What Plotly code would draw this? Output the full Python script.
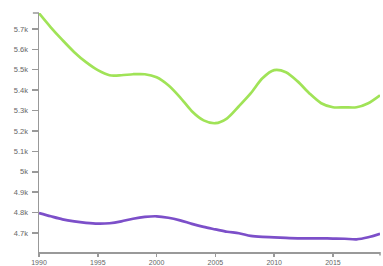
import plotly.graph_objects as go

years = list(range(1990, 2020))
green_values = [5777, 5708, 5645, 5586, 5537, 5498, 5473, 5473, 5478, 5478,
                5463, 5424, 5365, 5297, 5252, 5238, 5262, 5321, 5384, 5458,
                5498, 5488, 5443, 5384, 5336, 5316, 5316, 5316, 5336, 5375]
purple_values = [4798, 4782, 4767, 4757, 4750, 4746, 4748, 4757, 4770, 4779,
                 4782, 4775, 4762, 4745, 4730, 4718, 4706, 4699, 4686, 4681,
                 4679, 4676, 4674, 4674, 4674, 4673, 4672, 4669, 4679, 4696]
x_ticks = [1990, 1995, 2000, 2005, 2010, 2015]
y_ticks = [4700, 4800, 4900, 5000, 5100, 5200, 5300, 5400, 5500, 5600, 5700]
y_tick_labels = ["4.7k", "4.8k", "4.9k", "5k", "5.1k", "5.2k", "5.3k", "5.4k", "5.5k", "5.6k", "5.7k"]

fig = go.Figure()
fig.add_trace(go.Scatter(x=years, y=green_values, mode="lines",
                         line=dict(color="#a0e357", width=2.7, shape="spline", smoothing=0.8),
                         hoverinfo="skip", cliponaxis=False))
fig.add_trace(go.Scatter(x=years, y=purple_values, mode="lines",
                         line=dict(color="#7c4fc9", width=2.7, shape="spline", smoothing=0.8),
                         hoverinfo="skip", cliponaxis=False))

axis_color = "#999999"
label_color = "#666666"
fig.update_layout(
    width=383, height=266,
    margin=dict(l=39, r=3, t=13, b=14, autoexpand=False),
    paper_bgcolor="white", plot_bgcolor="white",
    showlegend=False,
    font=dict(family="Liberation Sans, Arial, sans-serif", size=8, color=label_color),
    xaxis=dict(range=[1990, 2019], tickvals=x_ticks, ticktext=[str(v) for v in x_ticks],
               automargin=False,
               showgrid=False, zeroline=False, showline=True, linecolor=axis_color, linewidth=1.5,
               ticks="outside", ticklen=3, tickcolor=axis_color, tickwidth=1.5,
               tickfont=dict(size=7, color=label_color)),
    yaxis=dict(range=[4607, 5778], tickvals=y_ticks, ticktext=y_tick_labels,
               automargin=False,
               showgrid=False, zeroline=False, showline=True, linecolor=axis_color, linewidth=1.5,
               ticks="outside", ticklen=6, tickcolor=axis_color, tickwidth=1.5,
               ticklabelstandoff=2,
               tickfont=dict(size=7.5, color=label_color)),
)
# outer domain ticks (D3 style) at the axis ends
fig.add_shape(type="line", xref="paper", yref="paper", x0=0, x1=-0.018, y0=1, y1=1,
              line=dict(color=axis_color, width=1.5))
fig.add_shape(type="line", xref="paper", yref="paper", x0=1, x1=1, y0=0, y1=-0.015,
              line=dict(color=axis_color, width=1.5))

fig.write_html("out.html", config={"displayModeBar": False, "staticPlot": True})

# remove the browser's default 8px body margin so the figure sits at the page origin
with open("out.html", "r", encoding="utf-8") as f:
    html = f.read()
html = html.replace("<head>", "<head><style>html,body{margin:0;padding:0;overflow:hidden}</style>", 1)
with open("out.html", "w", encoding="utf-8") as f:
    f.write(html)
